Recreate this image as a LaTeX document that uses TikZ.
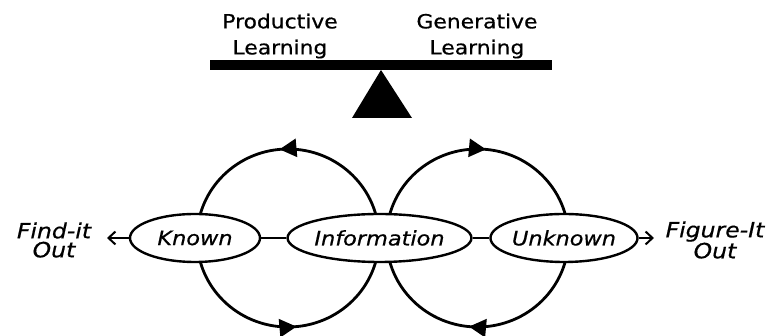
\documentclass[tikz,border=0pt]{standalone}
\usepackage{fontspec}
\setmainfont{DejaVu Sans}[FakeStretch=1.12,FakeBold=0.6]
\usetikzlibrary{arrows.meta,decorations.markings,shapes.geometric}
\begin{document}
\begin{tikzpicture}[x=1pt,y=1pt,
  label/.style={font=\fontsize{19.5}{26}\selectfont, align=center, inner sep=0},
  hand/.style={font=\fontsize{21}{19}\selectfont\itshape, align=center, inner sep=0},
  bubble/.style={ellipse, draw, line width=2.4pt, fill=white, minimum height=48, inner sep=0,
    font=\fontsize{20}{20}\selectfont\itshape},
  loop/.style={line width=2.8pt, postaction={decorate}},
  looptip/.tip={Triangle[length=17pt,width=18pt]},
  link/.style={line width=2pt},
  outarrow/.style={line width=2pt, -{Straight Barb[length=7pt,width=13pt,line width=2pt]}}
]
\useasboundingbox (0,0) rectangle (769,336);

% balance beam and its pivot
\fill (210,266) rectangle (552,276);
\fill (381,266) -- (352,218) -- (412,218) -- cycle;
\node[label] (prod) at (280,300) {Productive\\Learning};
\node[label] (gen)  at (477,300) {Generative\\Learning};

% the two loops, drawn before the bubbles so that these hide their ends
\draw[loop, decoration={markings,
    mark=at position 0.265 with {\arrow{looptip}},
    mark=at position 0.765 with {\arrow{looptip}}}]
  (288,98) ++(0:91) arc[start angle=0, end angle=360, x radius=91, y radius=89];
\draw[loop, decoration={markings,
    mark=at position 0.265 with {\arrow{looptip}},
    mark=at position 0.765 with {\arrow{looptip}}}]
  (477.5,98) ++(180:91) arc[start angle=180, end angle=-180, x radius=91, y radius=89];

% the bubbles on the middle line
\node[bubble, minimum width=130] (known) at (195,98) {Known};
\node[bubble, minimum width=165] (info) at (379.5,98) {Information};
\node[bubble, minimum width=128] (unknown) at (564,98) {Unknown};
\draw[link] (known) -- (info);
\draw[link] (info) -- (unknown);

% the two ways out
\coordinate (leftend) at (107,98);
\coordinate (rightend) at (654,98);
\draw[outarrow] (known) -- (leftend);
\draw[outarrow] (unknown) -- (rightend);
\node[hand] (find) at (54,96) {Find-it\\Out};
\node[hand] (figure) at (715,96) {Figure-It\\Out};
\end{tikzpicture}
\end{document}
